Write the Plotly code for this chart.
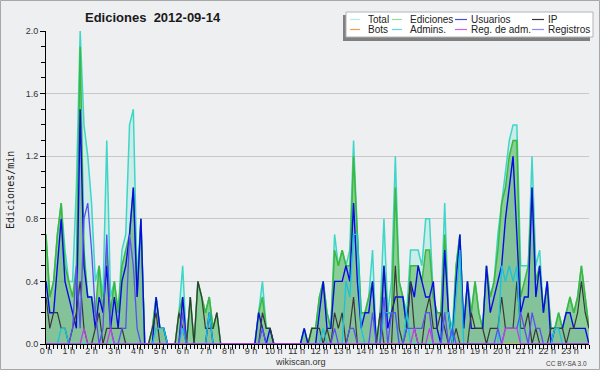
import plotly.graph_objects as go

# ---------------- data (edits per minute, 10-minute slots, 2012-09-14) ----------------
slots = list(range(144))
hours = list(range(24))
hour_labels = [f"{h} h" for h in hours]
y_ticks = [0.0, 0.4, 0.8, 1.2, 1.6, 2.0]
y_tick_labels = ["0.0", "0.4", "0.8", "1.2", "1.6", "2.0"]

total = [
    0.7, 0.3, 0.4, 0.7, 0.9, 0.6, 0.4, 0.4, 1.0, 2.0, 1.4, 1.2,
    0.9, 0.4, 0.5, 0.3, 1.3, 0.3, 0.4, 0.2, 0.6, 0.7, 1.4, 1.5,
    0.4, 0.8, 0, 0, 0.1, 0.3, 0.1, 0.1, 0, 0, 0, 0.2,
    0.5, 0, 0.3, 0, 0.4, 0.3, 0.2, 0.3, 0.1, 0.2, 0, 0,
    0, 0, 0, 0, 0, 0, 0, 0, 0.2, 0.4, 0.1, 0.1,
    0, 0, 0, 0, 0, 0, 0, 0, 0.1, 0, 0.1, 0.1,
    0.3, 0.4, 0.2, 0.1, 0.7, 0.5, 0.6, 0.5, 0.6, 1.3, 0.7, 0.2,
    0.2, 0.3, 0.6, 0, 0.2, 0.8, 0.2, 0.4, 1.2, 0.4, 0.3, 0.2,
    0.6, 0.6, 0.6, 0.5, 0.8, 0.8, 0.3, 0.2, 0.2, 0.9, 0.2, 0.1,
    0.5, 0.7, 0.1, 0.4, 0.2, 0.4, 0.2, 0.1, 0.5, 0.3, 0.4, 0.7,
    0.9, 1.1, 1.3, 1.4, 1.4, 0.5, 0.5, 0.5, 1.2, 0.5, 0.6, 0.2,
    0.4, 0.1, 0.1, 0.2, 0.1, 0.2, 0.3, 0.2, 0.3, 0.5, 0.3, 0.1,
]
ediciones = [
    0.7, 0.3, 0.4, 0.7, 0.9, 0.5, 0.4, 0.3, 0.5, 1.9, 0.6, 0.3,
    0.3, 0.2, 0.5, 0.2, 0.6, 0.2, 0.4, 0.2, 0.5, 0.6, 0.7, 1.0,
    0.3, 0.8, 0, 0, 0.1, 0.3, 0.1, 0.1, 0, 0, 0, 0.2,
    0.3, 0, 0.3, 0, 0.4, 0.3, 0.2, 0.3, 0.1, 0.2, 0, 0,
    0, 0, 0, 0, 0, 0, 0, 0, 0.2, 0.3, 0.1, 0.1,
    0, 0, 0, 0, 0, 0, 0, 0, 0.1, 0, 0.1, 0.1,
    0.3, 0.4, 0.2, 0.1, 0.6, 0.5, 0.6, 0.5, 0.5, 1.2, 0.7, 0.2,
    0.2, 0.3, 0.4, 0, 0.2, 0.5, 0.2, 0.2, 1.0, 0.4, 0.3, 0.1,
    0.5, 0.5, 0.5, 0.4, 0.6, 0.6, 0.3, 0.2, 0.2, 0.7, 0.2, 0,
    0.5, 0.7, 0.1, 0.4, 0.2, 0.4, 0.2, 0.1, 0.5, 0.3, 0.4, 0.6,
    0.9, 1.0, 1.2, 1.3, 1.3, 0.3, 0.4, 0.5, 1.0, 0.4, 0.5, 0.2,
    0.4, 0.1, 0.1, 0.2, 0.1, 0.2, 0.3, 0.2, 0.3, 0.5, 0.3, 0.1,
]
usuarios = [
    0.4, 0.2, 0.2, 0.5, 0.8, 0.4, 0.3, 0.2, 0.1, 1.5, 0.5, 0.3,
    0.3, 0.1, 0.3, 0.2, 0.5, 0.1, 0.3, 0.1, 0.4, 0.5, 0.7, 1.0,
    0.3, 0.8, 0, 0, 0, 0.3, 0.1, 0.1, 0, 0, 0, 0,
    0.3, 0, 0, 0, 0, 0, 0, 0.2, 0, 0, 0, 0,
    0, 0, 0, 0, 0, 0, 0, 0, 0.2, 0.1, 0, 0.1,
    0, 0, 0, 0, 0, 0, 0, 0, 0.1, 0, 0, 0,
    0.2, 0.4, 0.1, 0.1, 0.4, 0.4, 0.4, 0.5, 0.4, 0.9, 0.4, 0.1,
    0.2, 0.2, 0.4, 0, 0, 0.5, 0.1, 0.2, 0.3, 0.3, 0.3, 0.1,
    0.4, 0.3, 0.5, 0.4, 0.3, 0.3, 0.4, 0.1, 0, 0.6, 0.2, 0,
    0.4, 0.7, 0.1, 0.4, 0.1, 0.1, 0.1, 0.1, 0.5, 0.2, 0.3, 0.4,
    0.5, 0.8, 1.0, 1.2, 0.7, 0.2, 0.3, 0.3, 1.0, 0.3, 0.5, 0.2,
    0.4, 0, 0.1, 0.1, 0.1, 0.2, 0.2, 0.1, 0.1, 0.1, 0.1, 0,
]
ip = [
    0.3, 0.1, 0.2, 0.2, 0.1, 0.1, 0, 0.1, 0.2, 0.4, 0.1, 0,
    0, 0.1, 0.2, 0, 0.1, 0.1, 0.1, 0.1, 0.1, 0, 0, 0,
    0, 0, 0, 0, 0.1, 0.2, 0, 0, 0, 0, 0, 0.2,
    0.1, 0, 0.3, 0, 0.4, 0.3, 0.1, 0.1, 0.1, 0.2, 0, 0,
    0, 0, 0, 0, 0, 0, 0, 0, 0, 0.2, 0.1, 0.1,
    0, 0, 0, 0, 0, 0, 0, 0, 0, 0, 0.1, 0.1,
    0.1, 0, 0.1, 0, 0.2, 0.1, 0.2, 0, 0.1, 0.3, 0, 0,
    0, 0, 0, 0, 0.2, 0, 0, 0, 0.5, 0.1, 0, 0.1,
    0.4, 0.1, 0, 0, 0.2, 0.3, 0.1, 0.1, 0.2, 0.1, 0, 0,
    0.1, 0, 0, 0, 0.2, 0.1, 0.1, 0.1, 0, 0.1, 0.1, 0.1,
    0.3, 0.1, 0.1, 0.1, 0.4, 0.1, 0.1, 0.2, 0, 0.1, 0, 0,
    0, 0.1, 0.1, 0.1, 0.1, 0, 0.1, 0.1, 0.2, 0.4, 0.2, 0.1,
]
bots = [0] * 144
admins = [
    0, 0, 0, 0, 0.1, 0.1, 0, 0, 0, 0, 0, 0,
    0, 0, 0, 0, 0, 0, 0, 0, 0, 0, 0, 0,
    0, 0, 0, 0, 0, 0.1, 0.1, 0.1, 0, 0, 0, 0,
    0.1, 0, 0, 0, 0, 0, 0, 0.2, 0, 0, 0, 0,
    0, 0, 0, 0, 0, 0, 0, 0, 0, 0, 0, 0,
    0, 0, 0, 0, 0, 0, 0, 0, 0, 0, 0, 0,
    0, 0.1, 0, 0, 0, 0, 0, 0.4, 0.3, 0.7, 0.7, 0.1,
    0, 0, 0, 0, 0, 0.2, 0.2, 0.2, 0.2, 0, 0, 0.2,
    0, 0, 0, 0, 0, 0, 0, 0, 0, 0.2, 0.2, 0,
    0.3, 0.6, 0, 0, 0, 0, 0, 0, 0, 0, 0, 0,
    0.5, 0.4, 0.5, 0.4, 0.5, 0, 0, 0, 0, 0, 0, 0,
    0, 0, 0.1, 0.1, 0, 0, 0, 0, 0, 0, 0, 0,
]
registros = [
    0, 0, 0, 0, 0, 0, 0, 0.1, 0.5, 0.1, 0.8, 0.9,
    0.6, 0.2, 0, 0.1, 0.7, 0.1, 0, 0, 0.1, 0.1, 0.7, 0.5,
    0.1, 0, 0, 0, 0, 0, 0, 0, 0, 0, 0, 0,
    0.2, 0, 0, 0, 0, 0, 0, 0, 0, 0, 0, 0,
    0, 0, 0, 0, 0, 0, 0, 0, 0, 0.1, 0, 0,
    0, 0, 0, 0, 0, 0, 0, 0, 0, 0, 0, 0,
    0, 0, 0, 0, 0.1, 0, 0, 0, 0.1, 0.1, 0, 0,
    0, 0, 0.2, 0, 0, 0.3, 0, 0.2, 0.2, 0, 0, 0.1,
    0.1, 0.1, 0.1, 0.1, 0.2, 0.2, 0, 0, 0, 0.2, 0, 0.1,
    0, 0, 0, 0, 0, 0, 0, 0, 0, 0, 0, 0.1,
    0, 0.1, 0.1, 0.1, 0.1, 0.2, 0.1, 0, 0.2, 0.1, 0.1, 0,
    0, 0, 0, 0, 0, 0, 0, 0, 0, 0, 0, 0,
]
reg_adm = [
    0, 0, 0, 0, 0, 0, 0, 0, 0, 0, 0.1, 0,
    0, 0, 0, 0, 0, 0.1, 0, 0, 0, 0, 0, 0,
    0, 0, 0, 0, 0, 0, 0, 0, 0, 0, 0, 0,
    0, 0, 0, 0, 0, 0, 0, 0, 0, 0, 0, 0,
    0, 0, 0, 0, 0, 0, 0, 0, 0, 0, 0, 0,
    0, 0, 0, 0, 0, 0, 0, 0, 0, 0, 0, 0,
    0, 0, 0, 0, 0, 0, 0, 0, 0, 0, 0, 0,
    0, 0, 0, 0, 0, 0, 0, 0, 0, 0, 0, 0,
    0, 0.1, 0, 0, 0, 0.1, 0, 0, 0, 0, 0, 0,
    0, 0, 0, 0, 0, 0, 0, 0, 0, 0, 0, 0,
    0, 0.1, 0.1, 0.1, 0.1, 0, 0, 0, 0, 0, 0, 0,
    0, 0, 0, 0, 0, 0, 0, 0, 0, 0, 0, 0,
]

legend_names = ["Total", "Ediciones", "Usuarios", "IP",
                "Bots", "Admins.", "Reg. de adm.", "Registros"]
legend_colors = ["#b4ece6", "#98dc98", "#4a4ae4", "#383838",
                 "#f0a040", "#60d4e4", "#d460e4", "#8c8cf0"]

# ---------------- figure ----------------
times = [k / 6 for k in slots]  # hours

W, H = 600, 370
L, R, T, B = 46, 11, 31, 26
PW, PH = W - L - R, H - T - B


def px_x(px):
    return (px - L) / PW


def px_y(py):
    return (H - B - py) / PH


fig = go.Figure()

series = [
    ("Total", total, "#3ed6c8", 1.5, "rgba(120,230,215,0.28)"),
    ("Ediciones", ediciones, "#3cb83c", 1.5, "rgba(60,170,50,0.45)"),
    ("Usuarios", usuarios, "#0a0ae6", 1.4, "rgba(40,40,200,0.07)"),
    ("IP", ip, "#383838", 1.2, None),
    ("Bots", bots, "#f0a030", 1.0, None),
    ("Admins.", admins, "#18c4dc", 1.3, None),
    ("Registros", registros, "#5a50f0", 1.3, None),
    ("Reg. de adm.", reg_adm, "#c040e0", 1.3, None),
]
for name, vals, color, width, fill in series:
    fig.add_trace(go.Scatter(
        x=times, y=vals, name=name, mode="lines",
        line=dict(color=color, width=width),
        fill="tozeroy" if fill else None,
        fillcolor=fill,
        showlegend=False, hoverinfo="skip",
    ))

font_main = "Liberation Sans, Arial, sans-serif"

fig.update_layout(
    width=W, height=H,
    margin=dict(l=L, r=R, t=T, b=B, pad=0),
    paper_bgcolor="#eeeff1",
    plot_bgcolor="#eeeff1",
    font=dict(family=font_main, size=9, color="#333333"),
    title=dict(text="<b>Ediciones  2012-09-14</b>", xref="container", yref="container",
               x=85 / W, xanchor="left", y=1 - 17 / H, yanchor="middle",
               font=dict(family=font_main, size=13, color="#1a1a1a")),
    xaxis=dict(
        range=[0, 143 / 6], tickmode="array", tickvals=hours, ticktext=hour_labels,
        ticks="outside", ticklen=4, tickcolor="#000000", tickwidth=1,
        showline=True, linecolor="#000000", linewidth=1,
        showgrid=False, zeroline=False,
        minor=dict(tickmode="linear", tick0=0, dtick=1 / 6, ticks="outside",
                   ticklen=4, tickcolor="#000000", showgrid=False),
        tickfont=dict(family=font_main, size=9, color="#333333"),
        ticklabelstandoff=-6,
    ),
    yaxis=dict(
        range=[0, 2], tickmode="array", tickvals=y_ticks, ticktext=y_tick_labels,
        ticks="outside", ticklen=5, tickcolor="#000000", tickwidth=1,
        showline=True, linecolor="#000000", linewidth=1,
        showgrid=True, gridcolor="#c8c8c8", gridwidth=1, zeroline=False,
        minor=dict(tickmode="linear", tick0=0, dtick=0.1, ticks="outside",
                   ticklen=4, tickcolor="#000000", showgrid=False),
        tickfont=dict(family=font_main, size=9, color="#333333"),
    ),
)

shapes = []
annotations = []

# outer frame
shapes.append(dict(type="rect", xref="paper", yref="paper",
                   x0=px_x(0.5), x1=px_x(W - 0.5), y0=px_y(0.5), y1=px_y(H - 0.5),
                   line=dict(color="#a8a8a8", width=1), fillcolor="rgba(0,0,0,0)", layer="above"))

# legend box with shadow
shapes.append(dict(type="rect", xref="paper", yref="paper",
                   x0=px_x(343), x1=px_x(590), y0=px_y(41), y1=px_y(15),
                   line=dict(width=0), fillcolor="#808080", layer="above"))
shapes.append(dict(type="rect", xref="paper", yref="paper",
                   x0=px_x(346), x1=px_x(593), y0=px_y(37), y1=px_y(12),
                   line=dict(color="#b4b4b4", width=1), fillcolor="#ffffff", layer="above"))

col_line = [(350, 360), (392, 402), (455, 467), (532, 544)]
col_text = [366, 408, 469, 546]
row_y = [19.5, 29.5]
for i, (name, color) in enumerate(zip(legend_names, legend_colors)):
    r, c = divmod(i, 4)
    shapes.append(dict(type="line", xref="paper", yref="paper",
                       x0=px_x(col_line[c][0]), x1=px_x(col_line[c][1]),
                       y0=px_y(row_y[r]), y1=px_y(row_y[r]),
                       line=dict(color=color, width=1.2), layer="above"))
    annotations.append(dict(text=name, xref="paper", yref="paper",
                            x=px_x(col_text[c]), y=px_y(row_y[r]),
                            xanchor="left", yanchor="middle", showarrow=False,
                            font=dict(family=font_main, size=10, color="#222222")))

# y-axis title
annotations.append(dict(text="Ediciones/min", xref="paper", yref="paper",
                        x=px_x(10), y=px_y(190), textangle=-90,
                        xanchor="center", yanchor="middle", showarrow=False,
                        font=dict(family="DejaVu Sans Mono, monospace", size=10, color="#222222")))
# footer
annotations.append(dict(text="wikiscan.org", xref="paper", yref="paper",
                        x=px_x(300), y=px_y(362), xanchor="center", yanchor="middle",
                        showarrow=False, font=dict(family=font_main, size=9, color="#333333")))
annotations.append(dict(text="CC BY-SA 3.0", xref="paper", yref="paper",
                        x=px_x(589), y=px_y(363), xanchor="right", yanchor="middle",
                        showarrow=False, font=dict(family=font_main, size=6.5, color="#444444")))

fig.update_layout(shapes=shapes, annotations=annotations)

fig.write_html("out.html", config={"displayModeBar": False},
               post_script="document.body.style.margin='0';document.body.style.padding='0';")
